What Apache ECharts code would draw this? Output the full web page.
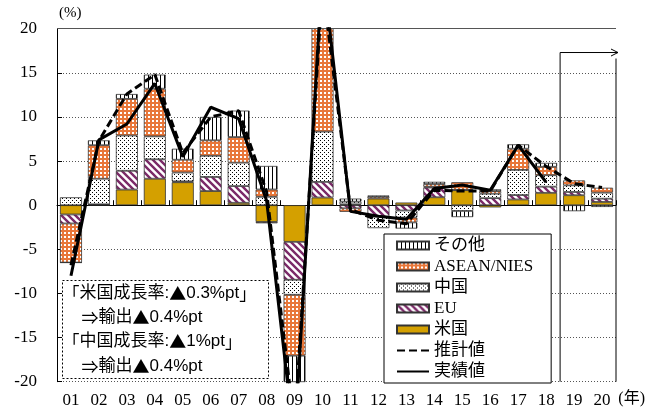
<!DOCTYPE html>
<html>
<head>
<meta charset="utf-8">
<script src="https://cdn.jsdelivr.net/npm/echarts@6/dist/echarts.min.js"></script>
<style>
  html, body { margin: 0; padding: 0; background: #fff; }
  #main { width: 647px; height: 416px; }
</style>
</head>
<body>
<div id="main"></div>
<script>
// 年次（横軸）
const years = ['01','02','03','04','05','06','07','08','09','10','11','12','13','14','15','16','17','18','19','20'];
// 寄与度（%pt）
const usData    = [-1.05, 0.05, 1.77, 3.0, 2.6, 1.6, 0.27, -1.9, -4.15, 0.87, 0.1, 0.75, 0.3, 0.9, 1.7, -0.25, 0.65, 1.4, 1.13, 0.37];
const euData    = [-1.02, 0.05, 2.13, 2.2, 0.1, 1.6, 1.9, -0.15, -4.3, 1.77, -0.35, -1.3, -0.6, 1.1, 0.05, 0.8, 0.5, 0.7, 0.37, 0.37];
const chinaData = [0.9, 2.9, 4.0, 2.6, 1.0, 2.4, 2.65, 0.95, -1.7, 5.7, 0.3, -1.3, -0.8, 0.1, -0.65, 0.5, 2.85, 1.3, 0.75, 0.68];
const aseanData = [-4.43, 3.8, 4.15, 5.4, 1.45, 1.75, 2.9, 0.83, -6.9, 13, -0.4, 0.2, -0.55, 0.3, 0.85, 0.3, 2.4, 0.95, 0.56, 0.56];
const otherData = [0, 0.55, 0.55, 1.6, 1.25, 2.65, 3.0, 2.67, -3.5, 1, 0.35, 0.15, -0.7, 0.25, -0.7, 0.2, 0.5, 0.45, -0.68, -0.2];
// 推計値・実績値（%）
const estData    = [-6.8, 7.3, 12.6, 14.8, 5.9, 10.0, 10.7, 1.5, -25, 25, -0.5, -1.7, -2.1, 1.7, 1.6, 1.6, 6.8, 4.4, 2.45, 2.0];
const actualData = [-8.0, 7.4, 9.2, 13.8, 5.5, 11.1, 9.8, 0.5, -27, 27, -0.7, -1.25, -1.6, 1.9, 2.3, 1.7, 6.8, 2.6, null, null];
const yTicks = [-20, -15, -10, -5, 0, 5, 10, 15, 20];
const forecastTop = 17.3;

const serif = "'Liberation Serif', 'Noto Sans CJK JP', serif";
const gothic = "'Liberation Sans', 'Noto Sans CJK JP', sans-serif";
const cjk = "'Noto Sans CJK JP', sans-serif";

function makePattern(w, h, draw) {
  const c = document.createElement('canvas');
  c.width = w; c.height = h;
  const ctx = c.getContext('2d');
  draw(ctx);
  return { image: c, repeat: 'repeat' };
}
const otherPat = makePattern(4, 4, function (ctx) {
  ctx.fillStyle = '#fff'; ctx.fillRect(0, 0, 4, 4);
  ctx.fillStyle = '#000'; ctx.fillRect(0, 0, 1, 4);
});
const aseanPat = makePattern(4, 4, function (ctx) {
  ctx.fillStyle = '#e8773a'; ctx.fillRect(0, 0, 4, 4);
  ctx.fillStyle = '#fff'; ctx.fillRect(0, 0, 2, 2);
});
const chinaPat = makePattern(4, 4, function (ctx) {
  ctx.fillStyle = '#fff'; ctx.fillRect(0, 0, 4, 4);
  ctx.fillStyle = '#000'; ctx.fillRect(0, 0, 1, 1); ctx.fillRect(2, 2, 1, 1);
});
const euPat = makePattern(7, 7, function (ctx) {
  ctx.fillStyle = '#fff'; ctx.fillRect(0, 0, 7, 7);
  ctx.strokeStyle = '#7b2a68'; ctx.lineWidth = 2.4;
  ctx.beginPath();
  ctx.moveTo(-7, 0); ctx.lineTo(7, 14);
  ctx.moveTo(0, 0); ctx.lineTo(7, 7);
  ctx.moveTo(0, -7); ctx.lineTo(14, 7);
  ctx.moveTo(-7, -7); ctx.lineTo(7, 7);
  ctx.stroke();
});

function barSeries(name, data, color) {
  return {
    name: name,
    type: 'bar',
    stack: 'total',
    barWidth: 22,
    data: data,
    itemStyle: { color: color, borderColor: '#333', borderWidth: 0.8 }
  };
}

function note(text) {
  // ▲・⇒ は全角フォントで
  return text.replace(/([▲⇒「」]+)/g, '{w|$1}');
}

let myChart = echarts.init(document.getElementById('main'));
let option = {
  animation: false,
  grid: { left: 57, right: 31, top: 28.7, bottom: 34.3 },
  legend: {
    orient: 'vertical',
    left: 384,
    top: 234,
    padding: [3, 18, 3, 12],
    itemWidth: 32,
    itemHeight: 8,
    itemGap: 4,
    backgroundColor: '#fff',
    borderColor: '#000',
    borderWidth: 1,
    textStyle: { color: '#000', fontSize: 17, lineHeight: 17, fontFamily: serif },
    data: [
      { name: 'その他', icon: 'rect' },
      { name: 'ASEAN/NIES', icon: 'rect' },
      { name: '中国', icon: 'rect' },
      { name: 'EU', icon: 'rect' },
      { name: '米国', icon: 'rect' },
      { name: '推計値', itemStyle: { opacity: 0 } },
      { name: '実績値', itemStyle: { opacity: 0 } }
    ]
  },
  xAxis: [
    {
      type: 'category',
      data: years,
      position: 'bottom',
      axisLine: { show: false, onZero: false },
      axisTick: { show: false },
      axisLabel: { color: '#000', fontSize: 17, fontFamily: serif, margin: 10 },
      splitLine: { show: false }
    },
    {
      type: 'category',
      data: years,
      position: 'top',
      axisLine: { onZero: true, lineStyle: { color: '#000', width: 1 } },
      axisTick: { show: true, length: 5, lineStyle: { color: '#000' } },
      axisLabel: { show: false },
      splitLine: { show: false }
    }
  ],
  yAxis: {
    type: 'value',
    min: -20,
    max: 20,
    interval: 5,
    name: '(%)',
    nameLocation: 'end',
    nameGap: 8,
    nameTextStyle: { color: '#000', fontSize: 15, fontFamily: serif, align: 'left', padding: [0, 0, 0, 2] },
    axisLine: { show: true, lineStyle: { color: '#000', width: 1 } },
    axisTick: { show: true, inside: true, length: 5, lineStyle: { color: '#000' } },
    axisLabel: { color: '#000', fontSize: 17, fontFamily: serif, margin: 20,
      formatter: function (v) { return yTicks.indexOf(v) >= 0 ? String(v) : ''; } },
    splitLine: { show: true, lineStyle: { color: '#555', type: [1, 2], width: 1 } }
  },
  series: [
    barSeries('米国', usData, '#d4a000'),
    barSeries('EU', euData, euPat),
    barSeries('中国', chinaData, chinaPat),
    barSeries('ASEAN/NIES', aseanData, aseanPat),
    barSeries('その他', otherData, otherPat),
    {
      name: '推計値',
      type: 'line',
      data: estData,
      symbol: 'none',
      z: 5,
      lineStyle: { color: '#000', width: 3, type: [8, 4] },
      itemStyle: { color: '#000' },
      markLine: {
        silent: true,
        symbol: 'none',
        label: { show: false },
        lineStyle: { color: '#555', type: 'solid', width: 1 },
        data: [{ yAxis: 20 }]
      }
    },
    {
      name: '実績値',
      type: 'line',
      data: actualData,
      symbol: 'none',
      z: 6,
      connectNulls: false,
      lineStyle: { color: '#000', width: 3, type: 'solid' },
      itemStyle: { color: '#000' }
    }
  ]
};
myChart.setOption(option);

// 予測期間の枠と注記ボックス
let x18 = myChart.convertToPixel({ xAxisIndex: 0 }, '18');
let x19 = myChart.convertToPixel({ xAxisIndex: 0 }, '19');
let x20 = myChart.convertToPixel({ xAxisIndex: 0 }, '20');
let step = x19 - x18;
let xb = (x18 + x19) / 2;
let xr = x20 + step / 2;
let yTop = myChart.convertToPixel({ yAxisIndex: 0 }, forecastTop);
let yBot = myChart.convertToPixel({ yAxisIndex: 0 }, -20);

const noteStyle = { fontSize: 17, fontFamily: gothic, fill: '#000', verticalAlign: 'middle',
  rich: { w: { fontSize: 17, fontFamily: cjk, fill: '#000' } } };
function noteText(x, y, text) {
  return { type: 'text', x: x, y: y, style: Object.assign({ text: note(text) }, noteStyle) };
}

myChart.setOption({
  graphic: [
    { type: 'line', z: 20, shape: { x1: xb, y1: yTop, x2: xb, y2: yBot }, style: { stroke: '#000', lineWidth: 1 } },
    { type: 'line', z: 20, shape: { x1: xr, y1: yTop + 6, x2: xr, y2: yBot }, style: { stroke: '#000', lineWidth: 1 } },
    { type: 'line', z: 20, shape: { x1: xb, y1: yTop, x2: xr + 2, y2: yTop }, style: { stroke: '#000', lineWidth: 1 } },
    { type: 'polyline', z: 20, shape: { points: [[xr - 5, yTop - 3.5], [xr + 2, yTop], [xr - 5, yTop + 3.5]] }, style: { stroke: '#000', lineWidth: 1, fill: null } },
    {
      type: 'group', left: 62, top: 280, z: 30,
      children: [
        { type: 'rect', shape: { x: 0, y: 0, width: 206, height: 98 },
          style: { fill: '#fff', stroke: '#000', lineWidth: 1, lineDash: [2, 2] } },
        noteText(0, 13, '「米国成長率:▲0.3%pt」'),
        noteText(19, 37, '⇒輸出▲0.4%pt'),
        noteText(0, 61, '「中国成長率:▲1%pt」'),
        noteText(19, 86, '⇒輸出▲0.4%pt')
      ]
    },
    { type: 'text', right: 2, top: 391, z: 30, style: { text: '(年)', font: '16px ' + serif, fill: '#000' } }
  ]
});
</script>
</body>
</html>
